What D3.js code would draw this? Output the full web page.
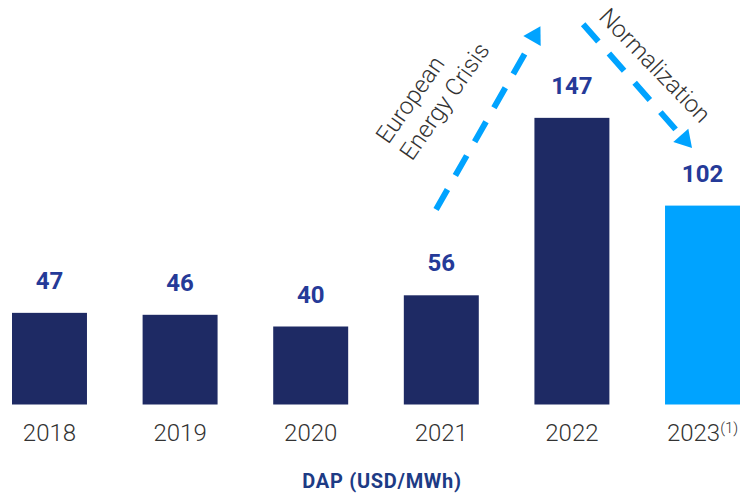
<!DOCTYPE html>
<html>
<head>
<meta charset="utf-8">
<script src="https://cdn.jsdelivr.net/npm/d3@7"></script>
<style>
  html, body { margin: 0; padding: 0; background: #ffffff; }
  svg { display: block; }
</style>
</head>
<body>
<svg id="chart" width="740" height="495"></svg>
<script>
// ---- data ----
const categories = ["2018", "2019", "2020", "2021", "2022", "2023"];
const values = [47, 46, 40, 56, 147, 102];
const footnotes = ["", "", "", "", "", "(1)"];
const isEstimate = [false, false, false, false, false, true];
const axisTitle = "DAP (USD/MWh)";
const riseLabel = ["European", "Energy Crisis"];
const fallLabel = "Normalization";

// ---- layout ----
const baseY = 404.5;
const svg = d3.select("#chart");

const x = d3.scaleBand()
  .domain(categories)
  .range([12, 740])
  .paddingInner(0.426)
  .paddingOuter(0);

const y = d3.scaleLinear().domain([0, 200]).range([baseY, 14.5]);

const navy = "#1e2a64";
const bright = "#00a3ff";
const labelBlue = "#253a98";

// bars
svg.append("g").selectAll("rect")
  .data(categories)
  .join("rect")
  .attr("x", d => x(d))
  .attr("y", (d, i) => y(values[i]))
  .attr("width", x.bandwidth())
  .attr("height", (d, i) => y(0) - y(values[i]))
  .attr("fill", (d, i) => isEstimate[i] ? bright : navy);

// value labels
svg.append("g").selectAll("text")
  .data(categories)
  .join("text")
  .attr("x", d => x(d) + x.bandwidth() / 2)
  .attr("y", (d, i) => y(values[i]) - 24)
  .attr("text-anchor", "middle")
  .attr("font-family", "Roboto, sans-serif")
  .attr("font-weight", 700)
  .attr("font-size", 24)
  .attr("fill", labelBlue)
  .text((d, i) => values[i]);

// x axis
const axis = d3.axisBottom(x).tickSize(0).tickPadding(19.5);
const gx = svg.append("g")
  .attr("transform", `translate(0,${baseY})`)
  .call(axis);
gx.select(".domain").remove();
gx.selectAll(".tick text")
  .attr("font-family", "Roboto, sans-serif")
  .attr("font-weight", 300)
  .attr("font-size", 24)
  .attr("fill", "#333333")
  .each(function(d) {
    const fn = footnotes[categories.indexOf(d)];
    if (fn) {
      d3.select(this).append("tspan")
        .attr("font-size", 15)
        .attr("dy", "-0.55em")
        .text(fn);
    }
  });

// axis title
svg.append("text")
  .attr("x", 382)
  .attr("y", 487.5)
  .attr("text-anchor", "middle")
  .attr("font-family", "Roboto, sans-serif")
  .attr("font-weight", 700)
  .attr("font-size", 20)
  .attr("letter-spacing", 0.7)
  .attr("fill", "#1d3b85")
  .text(axisTitle);

// ---- annotation arrows ----
function arrow(x1, y1, x2, y2) {
  const dx = x2 - x1, dy = y2 - y1;
  const len = Math.hypot(dx, dy);
  const ux = dx / len, uy = dy / len;
  const px = -uy, py = ux;
  const headLen = 17, headHalf = 10;
  const bx = x2 - ux * headLen, by = y2 - uy * headLen;
  svg.append("line")
    .attr("x1", x1).attr("y1", y1)
    .attr("x2", bx + ux * 2).attr("y2", by + uy * 2)
    .attr("stroke", bright)
    .attr("stroke-width", 6)
    .attr("stroke-dasharray", "23,16");
  svg.append("path")
    .attr("d", `M${x2},${y2}L${bx + px * headHalf},${by + py * headHalf}L${bx - px * headHalf},${by - py * headHalf}Z`)
    .attr("fill", bright);
}

const bw = x.bandwidth();
arrow(x("2021") + 0.43 * bw, y(100), x("2022") + 0.08 * bw, y(194));
arrow(x("2022") + 0.65 * bw, y(195), x("2023") + 0.36 * bw, y(131.5));

// rise label
const rise = svg.append("text")
  .attr("transform", `translate(${x("2021") + 0.11 * bw},${y(124.5)}) rotate(-55)`)
  .attr("font-family", "Roboto, sans-serif")
  .attr("font-weight", 300)
  .attr("font-size", 24)
  .attr("fill", "#333333");
rise.append("tspan").attr("x", 0).attr("y", -29).text(riseLabel[0]);
rise.append("tspan").attr("x", 0).attr("y", 0).text(riseLabel[1]);

// fall label
svg.append("text")
  .attr("transform", `translate(${x("2022") + 1.53 * bw},${y(171)}) rotate(46)`)
  .attr("text-anchor", "middle")
  .attr("font-family", "Roboto, sans-serif")
  .attr("font-weight", 300)
  .attr("font-size", 24)
  .attr("fill", "#333333")
  .text(fallLabel);
</script>
</body>
</html>
